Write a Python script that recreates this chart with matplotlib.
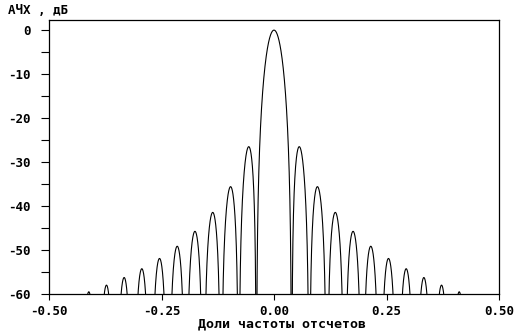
import numpy as np
import matplotlib
matplotlib.use("Agg")
import matplotlib.pyplot as plt
from matplotlib.ticker import MultipleLocator

# Весовые коэффициенты окна (треугольное, 50 отсчетов)
weights = [1, 2, 3, 4, 5, 6, 7, 8, 9, 10, 11, 12, 13, 14, 15, 16, 17, 18, 19, 20, 21, 22, 23, 24, 25,
           25, 24, 23, 22, 21, 20, 19, 18, 17, 16, 15, 14, 13, 12, 11, 10, 9, 8, 7, 6, 5, 4, 3, 2, 1]

x_ticks = [-0.50, -0.25, 0.00, 0.25, 0.50]
x_labels = ["-0.50", "-0.25", "0.00", "0.25", "0.50"]
y_ticks = [0, -10, -20, -30, -40, -50, -60]
y_labels = ["0", "-10", "-20", "-30", "-40", "-50", "-60"]

# АЧХ окна
h = np.array(weights, dtype=float)
n = np.arange(len(h))
f = np.linspace(-0.5, 0.5, 4001)
H = np.abs(np.exp(-2j * np.pi * np.outer(f, n)) @ h) / h.sum()
db = 20 * np.log10(np.maximum(H, 1e-6))

font = {"family": "DejaVu Sans Mono", "weight": "bold", "size": 9}
font_lbl = {"family": "DejaVu Sans Mono", "weight": "bold", "size": 9.5}

fig = plt.figure(figsize=(5.29, 3.33), dpi=100)
ax = fig.add_axes([49 / 529, 1 - 294 / 333, 450 / 529, 274 / 333])
ax.plot(f, db, color="black", linewidth=0.8)

ax.set_xlim(-0.5, 0.5)
ax.set_ylim(-60, 2.3)
ax.set_xticks(x_ticks)
ax.set_xticklabels(x_labels, fontdict=font)
ax.set_yticks(y_ticks)
ax.set_yticklabels(y_labels, fontdict=font)
ax.yaxis.set_minor_locator(MultipleLocator(5))
ax.tick_params(axis="y", which="both", direction="out", length=6, width=0.8, pad=7)
ax.tick_params(axis="x", which="both", direction="out", length=4, width=0.8, pad=4)
for s in ax.spines.values():
    s.set_linewidth(0.9)

ax.set_xlabel("Доли частоты отсчетов", fontdict=font_lbl)
ax.xaxis.set_label_coords((282 - 49) / 450, -0.085)
fig.text(8 / 529, 1 - 14 / 333, "АЧХ , дБ", fontdict=font)

fig.savefig("out.png", dpi=100)
